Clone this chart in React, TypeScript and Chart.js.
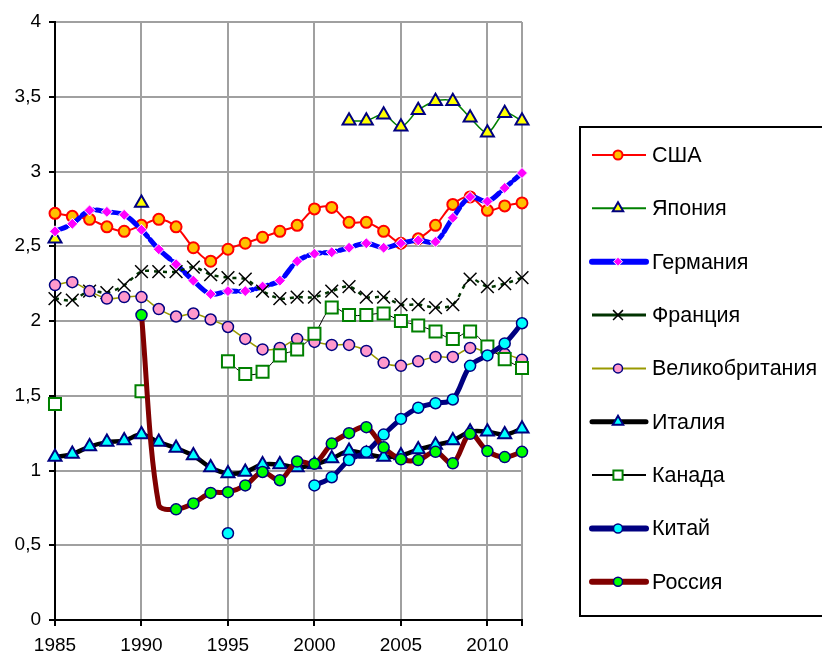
import React, { useEffect, useRef } from 'react';
import { Chart, registerables } from 'chart.js';

Chart.register(...registerables);

const years = [1985, 1986, 1987, 1988, 1989, 1990, 1991, 1992, 1993, 1994, 1995, 1996, 1997, 1998, 1999, 2000, 2001, 2002, 2003, 2004, 2005, 2006, 2007, 2008, 2009, 2010, 2011, 2012];
const xTickValues = [1985, 1990, 1995, 2000, 2005, 2010, 2012];
const xLabelledTicks = [1985, 1990, 1995, 2000, 2005, 2010];

const seriesNames = ['США', 'Япония', 'Германия', 'Франция', 'Великобритания', 'Италия', 'Канада', 'Китай', 'Россия'];

const usa = [2.72, 2.70, 2.68, 2.63, 2.60, 2.64, 2.68, 2.63, 2.49, 2.40, 2.48, 2.52, 2.56, 2.60, 2.64, 2.75, 2.76, 2.66, 2.66, 2.60, 2.52, 2.55, 2.64, 2.78, 2.83, 2.74, 2.77, 2.79];
const japan = [2.55, null, null, null, null, 2.79, null, null, null, null, null, null, null, null, null, null, null, 3.34, 3.34, 3.38, 3.30, 3.41, 3.47, 3.47, 3.36, 3.26, 3.39, 3.34];
const germany = [2.60, 2.65, 2.74, 2.73, 2.71, 2.61, 2.48, 2.38, 2.27, 2.18, 2.20, 2.20, 2.23, 2.27, 2.40, 2.45, 2.46, 2.49, 2.52, 2.49, 2.52, 2.54, 2.53, 2.69, 2.83, 2.80, 2.89, 2.99];
const france = [2.15, 2.14, 2.20, 2.19, 2.24, 2.33, 2.33, 2.33, 2.36, 2.31, 2.29, 2.28, 2.20, 2.15, 2.16, 2.16, 2.20, 2.23, 2.16, 2.16, 2.11, 2.11, 2.09, 2.11, 2.28, 2.23, 2.25, 2.29];
const uk = [2.24, 2.26, 2.20, 2.15, 2.16, 2.16, 2.08, 2.03, 2.05, 2.01, 1.96, 1.88, 1.81, 1.82, 1.88, 1.86, 1.84, 1.84, 1.80, 1.72, 1.70, 1.73, 1.76, 1.76, 1.82, 1.79, 1.78, 1.74];
const italy = [1.09, 1.11, 1.16, 1.19, 1.20, 1.24, 1.19, 1.15, 1.10, 1.02, 0.98, 0.99, 1.04, 1.04, 1.02, 1.04, 1.08, 1.13, 1.11, 1.09, 1.10, 1.14, 1.17, 1.20, 1.26, 1.26, 1.24, 1.28];
const canada = [1.445, null, null, null, null, 1.53, null, null, null, null, 1.73, 1.645, 1.66, 1.77, 1.81, 1.915, 2.09, 2.04, 2.04, 2.05, 2.00, 1.97, 1.93, 1.88, 1.93, 1.83, 1.745, 1.685];
const china = [null, null, null, null, null, null, null, null, null, null, 0.58, null, null, null, null, 0.90, 0.955, 1.07, 1.125, 1.24, 1.345, 1.42, 1.45, 1.475, 1.70, 1.77, 1.85, 1.985];
const russia = [null, null, null, null, null, 2.04, 0.77, 0.74, 0.78, 0.85, 0.855, 0.90, 0.99, 0.935, 1.06, 1.045, 1.18, 1.25, 1.29, 1.155, 1.075, 1.07, 1.125, 1.048, 1.245, 1.13, 1.09, 1.125];
// years whose marker is not shown (Россия, 1991)
const russiaNoMarkerYears = [1991];

const seriesValues = [usa, japan, germany, france, uk, italy, canada, china, russia];

type Style = {
  line: string; width: number; dash: number[]; marker: string; fill: string; stroke: string;
  mbw: number; r: number; legendR: number; legendWidth: number; cap: CanvasLineCap;
};

const styles: Style[] = [
  { line: '#FF0000', width: 2, dash: [], marker: 'circle', fill: '#FFC000', stroke: '#FF0000', mbw: 2, r: 5.5, legendR: 4.5, legendWidth: 2, cap: 'butt' },
  { line: '#008000', width: 1.5, dash: [], marker: 'triangle', fill: '#FFFF00', stroke: '#000080', mbw: 2, r: 7.5, legendR: 6, legendWidth: 2, cap: 'butt' },
  { line: '#0000FF', width: 5, dash: [12, 4], marker: 'rectRot', fill: '#FF00FF', stroke: '#FFFFFF', mbw: 1, r: 5.5, legendR: 4.5, legendWidth: 6, cap: 'round' },
  { line: '#003300', width: 2.5, dash: [4, 5], marker: 'crossRot', fill: 'rgba(0,0,0,0)', stroke: '#000000', mbw: 1.5, r: 9, legendR: 7, legendWidth: 3, cap: 'butt' },
  { line: '#999900', width: 1.5, dash: [], marker: 'circle', fill: '#FF99CC', stroke: '#000080', mbw: 1.5, r: 5.5, legendR: 4.5, legendWidth: 2, cap: 'butt' },
  { line: '#000000', width: 4.5, dash: [], marker: 'triangle', fill: '#00FFFF', stroke: '#000080', mbw: 2, r: 7.5, legendR: 6, legendWidth: 5, cap: 'round' },
  { line: '#000000', width: 1, dash: [], marker: 'rect', fill: '#FFFFFF', stroke: '#008000', mbw: 2, r: 8.5, legendR: 6.5, legendWidth: 2, cap: 'butt' },
  { line: '#000080', width: 5, dash: [], marker: 'circle', fill: '#00FFFF', stroke: '#000080', mbw: 1.5, r: 5.5, legendR: 4.5, legendWidth: 6, cap: 'round' },
  { line: '#800000', width: 5, dash: [], marker: 'circle', fill: '#00FF00', stroke: '#000080', mbw: 1.5, r: 5.5, legendR: 4.5, legendWidth: 6, cap: 'round' },
];

const FONT = '"Liberation Sans", Arial, sans-serif';

function drawMarker(ctx: CanvasRenderingContext2D, s: Style, x: number, y: number, r: number) {
  ctx.save();
  ctx.beginPath();
  ctx.setLineDash([]);
  ctx.lineWidth = s.mbw;
  ctx.strokeStyle = s.stroke;
  ctx.fillStyle = s.fill;
  if (s.marker === 'circle') {
    ctx.arc(x, y, r, 0, Math.PI * 2);
  } else if (s.marker === 'triangle') {
    const w = r * Math.sin(Math.PI / 3);
    ctx.moveTo(x, y - r);
    ctx.lineTo(x + w, y + r / 2);
    ctx.lineTo(x - w, y + r / 2);
    ctx.closePath();
  } else if (s.marker === 'rectRot') {
    ctx.moveTo(x - r, y);
    ctx.lineTo(x, y - r);
    ctx.lineTo(x + r, y);
    ctx.lineTo(x, y + r);
    ctx.closePath();
  } else if (s.marker === 'rect') {
    const h = r * Math.SQRT1_2;
    ctx.rect(x - h, y - h, 2 * h, 2 * h);
  } else if (s.marker === 'crossRot') {
    const h = r * Math.SQRT1_2;
    ctx.moveTo(x - h, y - h);
    ctx.lineTo(x + h, y + h);
    ctx.moveTo(x - h, y + h);
    ctx.lineTo(x + h, y - h);
    ctx.stroke();
    ctx.restore();
    return;
  }
  ctx.fill();
  ctx.stroke();
  ctx.restore();
}

const legendPlugin = {
  id: 'excelLegend',
  afterDraw(chart: any) {
    const ctx: CanvasRenderingContext2D = chart.ctx;
    ctx.save();
    ctx.lineWidth = 2;
    ctx.strokeStyle = '#000';
    ctx.strokeRect(580, 127, 260, 489);
    ctx.font = '21.5px ' + FONT;
    ctx.textBaseline = 'middle';
    ctx.textAlign = 'left';
    seriesNames.forEach((name, i) => {
      const s = styles[i];
      const y = 155 + i * 53.35;
      ctx.save();
      ctx.beginPath();
      ctx.strokeStyle = s.line;
      ctx.lineWidth = s.legendWidth;
      ctx.lineCap = s.cap;
      ctx.setLineDash([]);
      ctx.moveTo(592, y);
      ctx.lineTo(646, y);
      ctx.stroke();
      ctx.restore();
      drawMarker(ctx, s, 618, y, s.legendR);
      ctx.fillStyle = '#000';
      ctx.fillText(name, 652, y + 1);
    });
    ctx.restore();
  },
};

export default function App() {
  const ref = useRef<HTMLCanvasElement | null>(null);

  useEffect(() => {
    document.body.style.margin = '0';
    const canvas = ref.current;
    if (!canvas) return;
    const n = seriesNames.length;
    const datasets = seriesNames.map((name, i) => {
      const s = styles[i];
      const vals = seriesValues[i];
      return {
        label: name,
        data: years.map((x, j) => ({ x, y: vals[j] })),
        borderColor: s.line,
        borderWidth: s.width,
        borderDash: s.dash,
        borderCapStyle: s.cap,
        borderJoinStyle: 'round',
        backgroundColor: s.fill,
        pointStyle: s.marker,
        pointBackgroundColor: s.fill,
        pointBorderColor: s.stroke,
        pointBorderWidth: s.mbw,
        pointRadius: (c: any) => {
          if (i === 8 && c.raw && russiaNoMarkerYears.includes(c.raw.x)) return 0;
          return s.r;
        },
        pointHoverRadius: s.r,
        tension: 0.33,
        spanGaps: false,
        clip: false,
        order: n - i,
        fill: false,
      };
    });

    const chart = new Chart(canvas, {
      type: 'line',
      data: { datasets } as any,
      options: {
        animation: false,
        responsive: false,
        devicePixelRatio: 1,
        events: [],
        layout: { padding: { left: 0, right: 300, top: 22, bottom: 0 } },
        plugins: { legend: { display: false }, tooltip: { enabled: false }, title: { display: false } },
        scales: {
          x: {
            type: 'linear',
            min: 1985,
            max: 2012,
            afterBuildTicks: (axis: any) => {
              axis.ticks = xTickValues.map((v) => ({ value: v }));
            },
            afterFit: (s: any) => {
              s.height = 37;
            },
            ticks: {
              autoSkip: false,
              maxRotation: 0,
              padding: 8,
              color: '#000',
              font: { size: 19, family: FONT },
              callback: (v: any) => (xLabelledTicks.includes(v) ? String(v) : ''),
            },
            grid: { color: '#A0A0A0', lineWidth: 2, tickColor: '#000', tickLength: 6, tickWidth: 2 },
            border: { color: '#000', width: 2 },
          },
          y: {
            type: 'linear',
            min: 0,
            max: 4,
            afterFit: (s: any) => {
              s.width = 55;
            },
            ticks: {
              stepSize: 0.5,
              padding: 8,
              color: '#000',
              font: { size: 19, family: FONT },
              callback: (v: any) => String(v).replace('.', ','),
            },
            grid: { color: '#A0A0A0', lineWidth: 2, tickColor: '#000', tickLength: 6, tickWidth: 2 },
            border: { color: '#000', width: 2 },
          },
        },
      } as any,
      plugins: [legendPlugin],
    });
    return () => chart.destroy();
  }, []);

  return (
    <div style={{ width: 822, height: 657, position: 'relative', background: '#fff' }}>
      <canvas ref={ref} width={822} height={657} style={{ display: 'block' }} />
    </div>
  );
}
